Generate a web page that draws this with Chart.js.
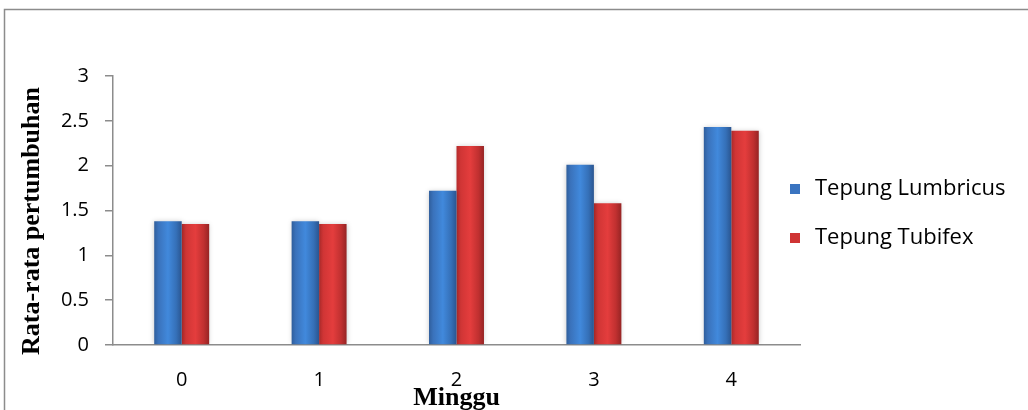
<!DOCTYPE html>
<html><head><meta charset="utf-8">
<script src="https://cdn.jsdelivr.net/npm/chart.js@4.4.1/dist/chart.umd.min.js"></script>
<style>html,body{margin:0;padding:0;background:#fff;}#wrap{position:relative;width:1028px;height:410px;}</style>
</head><body><div id="wrap"><canvas id="c" width="1028" height="410"></canvas></div>
<script>
const categories = ['0','1','2','3','4'];
const lumbricus = [1.38, 1.38, 1.72, 2.01, 2.43];
const tubifex = [1.35, 1.35, 2.22, 1.58, 2.39];
const seriesNames = ['Tepung Lumbricus','Tepung Tubifex'];
const yTitle = 'Rata-rata pertumbuhan';
const xTitle = 'Minggu';

const FONT = '"Open Sans"';
const tickFont = {family:'Open Sans', size:20};
const CAT_PCT = 0.4;

function barGradient(c, dsIndex, stops) {
  const chart = c.chart;
  const xs = chart.scales.x;
  if (!xs || xs.width == null || !isFinite(xs.width) || xs.width <= 0) return stops[2][1];
  const catW = xs.width / categories.length;
  const bw = catW * CAT_PCT / 2;
  const cx = xs.getPixelForValue(c.dataIndex) + (dsIndex - 0.5) * bw;
  const g = chart.ctx.createLinearGradient(cx - bw/2, 0, cx + bw/2, 0);
  stops.forEach(s => g.addColorStop(s[0], s[1]));
  return g;
}
const blueStops = [[0,'#2f5e9c'],[0.15,'#3a72bb'],[0.5,'#4189dc'],[0.8,'#3570b8'],[1,'#2a5590']];
const redStops = [[0,'#b52c2c'],[0.15,'#d03535'],[0.5,'#e43d3d'],[0.8,'#c03030'],[1,'#962424']];

const decor = {
  id:'decor',
  beforeDraw(chart){
    const ctx = chart.ctx;
    ctx.save();
    ctx.strokeStyle = '#8c8c8c';
    ctx.lineWidth = 1.5;
    ctx.beginPath();
    ctx.moveTo(4.5, 410); ctx.lineTo(4.5, 9.5); ctx.lineTo(1028, 9.5);
    ctx.stroke();
    ctx.restore();
  },
  beforeDatasetsDraw(chart){
    const ctx = chart.ctx;
    ctx.save();
    ctx.shadowColor = 'rgba(0,0,0,0.22)';
    ctx.shadowBlur = 5;
    ctx.shadowOffsetX = 0;
    ctx.shadowOffsetY = 0;
  },
  afterDatasetsDraw(chart){
    chart.ctx.restore();
  },
  afterDraw(chart){
    const ctx = chart.ctx;
    const a = chart.chartArea;
    ctx.save();
    ctx.fillStyle = '#000';
    ctx.font = 'bold 26px "Liberation Serif"';
    ctx.textAlign = 'center'; ctx.textBaseline = 'middle';
    ctx.translate(32, 221); ctx.rotate(-Math.PI/2);
    ctx.fillText(yTitle, 0, 0);
    ctx.restore();
    ctx.save();
    ctx.fillStyle = '#000';
    ctx.font = 'bold 26px "Liberation Serif"';
    ctx.textAlign = 'center'; ctx.textBaseline = 'middle';
    ctx.fillText(xTitle, (a.left + a.right)/2, 398);
    const items = [{c:'#3a74c0', y:189},{c:'#cf3434', y:238}];
    ctx.font = '22px ' + FONT;
    ctx.textAlign = 'left';
    items.forEach((it, i) => {
      ctx.fillStyle = it.c;
      ctx.fillRect(790, it.y - 5, 10, 10);
      ctx.fillStyle = '#000';
      ctx.fillText(seriesNames[i], 815, it.y);
    });
    ctx.restore();
  }
};

function build(){
new Chart(document.getElementById('c'), {
  type:'bar',
  data:{
    labels: categories,
    datasets:[
      {label:seriesNames[0], data:lumbricus, backgroundColor:c => barGradient(c, 0, blueStops), borderWidth:0},
      {label:seriesNames[1], data:tubifex, backgroundColor:c => barGradient(c, 1, redStops), borderWidth:0}
    ]
  },
  options:{
    responsive:false,
    animation:false,
    events:[],
    layout:{padding:{top:76, bottom:0, left:0, right:228}},
    datasets:{bar:{categoryPercentage:CAT_PCT, barPercentage:1}},
    plugins:{legend:{display:false}, tooltip:{enabled:false}},
    scales:{
      x:{
        grid:{display:false},
        border:{display:true, color:'#8c8c8c', width:1.5},
        ticks:{color:'#000', font:tickFont, padding:15},
        afterFit(s){ s.height = 65; }
      },
      y:{
        min:0, max:3,
        ticks:{stepSize:0.5, color:'#000', font:tickFont, padding:16, callback:v => String(v)},
        grid:{drawOnChartArea:false, drawTicks:true, tickLength:8, color:'#8c8c8c', lineWidth:1.5},
        border:{display:true, color:'#8c8c8c', width:1.5},
        afterFit(s){ s.width = 113; }
      }
    }
  },
  plugins:[decor]
});
}
Promise.all([
  document.fonts.load('20px "Open Sans"'),
  document.fonts.load('bold 26px "Liberation Serif"')
]).then(build, build);
</script></body></html>
